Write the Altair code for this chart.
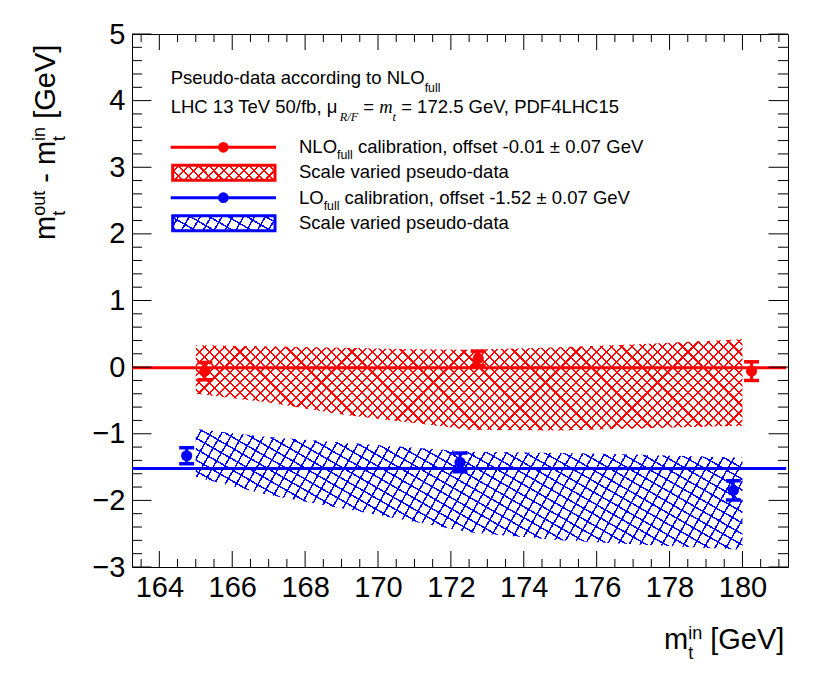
import math
import numpy as np
import pandas as pd
import altair as alt

# ---------------- data ----------------
band_x = [165, 167, 169, 171, 172.5, 175, 177, 180]
nlo_band_hi = [0.33, 0.31, 0.29, 0.27, 0.26, 0.30, 0.34, 0.42]
nlo_band_lo = [-0.40, -0.53, -0.71, -0.84, -0.94, -0.95, -0.92, -0.88]
lo_band_hi = [-0.93, -1.05, -1.13, -1.21, -1.27, -1.29, -1.31, -1.36]
lo_band_lo = [-1.65, -1.92, -2.12, -2.32, -2.48, -2.60, -2.66, -2.74]

nlo_x = [165.25, 172.75, 180.25]
nlo_y = [-0.06, 0.13, -0.06]
nlo_err = [0.13, 0.11, 0.14]
lo_x = [164.75, 172.25, 179.75]
lo_y = [-1.33, -1.43, -1.85]
lo_err = [0.12, 0.14, 0.145]

nlo_offset = -0.01
lo_offset = -1.52
line_x = [163.25, 181.2]

x_major = [164, 166, 168, 170, 172, 174, 176, 178, 180]
y_major = [-3, -2, -1, 0, 1, 2, 3, 4, 5]

# ---------------- geometry / style ----------------
W, H = 656, 533
X_DOM = [163.25, 181.25]
Y_DOM = [-3, 5]
PX = W / (X_DOM[1] - X_DOM[0])
PY = H / (Y_DOM[1] - Y_DOM[0])
RED = "#ff0000"
BLUE = "#0000ff"
FONT = "Liberation Sans"
SERIF = "Liberation Serif"

xs = alt.Scale(domain=X_DOM, nice=False, zero=False)
ys = alt.Scale(domain=Y_DOM, nice=False, zero=False)

x_minor = [v for v in np.arange(163.5, 181.01, 0.5) if abs(v - round(v / 2) * 2) > 1e-6]
y_minor = [round(v, 2) for v in np.arange(-3, 5.001, 0.2) if abs(v - round(v)) > 1e-6]

ARIAL = {' ': 278, '-': 333, '.': 278, ',': 278, '/': 278, '=': 584, '±': 584, '[': 278, ']': 278,
         'C': 722, 'D': 722, 'F': 611, 'G': 778, 'H': 722, 'L': 556, 'N': 722, 'O': 778, 'P': 667,
         'R': 722, 'S': 667, 'T': 611, 'V': 667, 'a': 556, 'b': 556, 'c': 500, 'd': 556, 'e': 556,
         'f': 278, 'g': 556, 'h': 556, 'i': 222, 'l': 222, 'm': 833, 'n': 556, 'o': 556, 'p': 556,
         'r': 333, 's': 500, 't': 278, 'u': 556, 'v': 500, 'μ': 576}
TIMESI = {'R': 611, '/': 278, 'F': 611, 'm': 722, 't': 278}


def tw(s, size, table=ARIAL):
    return sum(table.get(c, 556) for c in s) * size / 1000.0


def hatch(color, clear, angle, w_px, h_px, spacing, lw=1.5):
    th = math.radians(angle)
    nx, ny = math.sin(th), math.cos(th)
    corners = [(0, 0), (1, 0), (0, 1), (1, 1)]
    vals = [nx * w_px * u + ny * h_px * v for u, v in corners]
    i0 = int(np.argmin(vals))
    R = max(vals) - min(vals)
    Q = (nx * w_px) ** 2 + (ny * h_px) ** 2
    k = R / Q
    u1, v1 = corners[i0]
    x2 = u1 + k * nx * w_px
    y2 = v1 + k * ny * h_px
    step, wd = spacing / R, lw / R
    stops = [alt.GradientStop(offset=0, color=clear)]
    a = step / 2
    while a + wd < 1:
        for off, c in ((a, clear), (a, color), (a + wd, color), (a + wd, clear)):
            stops.append(alt.GradientStop(offset=round(off, 5), color=c))
        a += step
    stops.append(alt.GradientStop(offset=1, color=clear))
    return alt.LinearGradient(gradient="linear", stops=stops, x1=u1, y1=v1,
                              x2=round(x2, 5), y2=round(y2, 5))


RED_CLEAR = "rgba(255,0,0,0)"
BLUE_CLEAR = "rgba(0,0,255,0)"
RED_SP, BLUE_SP = 7.2, 9.5

# ---------------- tables ----------------
nlo_band = pd.DataFrame({"x": band_x, "hi": nlo_band_hi, "lo": nlo_band_lo})
lo_band = pd.DataFrame({"x": band_x, "hi": lo_band_hi, "lo": lo_band_lo})
nlo_pts = pd.DataFrame({"x": nlo_x, "y": nlo_y,
                        "lo": np.array(nlo_y) - np.array(nlo_err),
                        "hi": np.array(nlo_y) + np.array(nlo_err)})
lo_pts = pd.DataFrame({"x": lo_x, "y": lo_y,
                       "lo": np.array(lo_y) - np.array(lo_err),
                       "hi": np.array(lo_y) + np.array(lo_err)})
nlo_line = pd.DataFrame({"x": line_x, "y": [nlo_offset] * 2})
lo_line = pd.DataFrame({"x": line_x, "y": [lo_offset] * 2})
one = pd.DataFrame({"a": [0]})

XAX = alt.Axis(values=x_major, format="d", labelFontSize=29, labelFont=FONT, labelColor="black",
               ticks=False, tickSize=0, domain=False, grid=False, labelPadding=6,
               labelFlush=False, labelOverlap=False, title=None)
YAX = alt.Axis(values=y_major, format="d", labelFontSize=29, labelFont=FONT, labelColor="black",
               ticks=False, tickSize=0, domain=False, grid=False, labelPadding=7,
               labelOverlap=False, title=None)


def X(f):
    return alt.X(f, scale=xs, axis=XAX)


def Y(f):
    return alt.Y(f, scale=ys, axis=YAX)


def band_layers(df, color, clear, a1, a2, spacing):
    wpx = (max(df.x) - min(df.x)) * PX
    hpx = (max(df.hi) - min(df.lo)) * PY
    out = []
    for ang in (a1, a2):
        out.append(alt.Chart(df).mark_area(fill=hatch(color, clear, ang, wpx, hpx, spacing),
                                           opacity=1).encode(
            x=X("x:Q"), y=Y("hi:Q"), y2="lo:Q"))
    return out


layers = []
layers += band_layers(nlo_band, RED, RED_CLEAR, 45, -45, RED_SP)
layers += band_layers(lo_band, BLUE, BLUE_CLEAR, 60, -30, BLUE_SP)

for df, col in ((nlo_line, RED), (lo_line, BLUE)):
    layers.append(alt.Chart(df).mark_line(color=col, strokeWidth=3).encode(
        x=X("x:Q"), y=Y("y:Q")))

for df, col in ((nlo_pts, RED), (lo_pts, BLUE)):
    base = alt.Chart(df)
    layers.append(base.mark_rule(color=col, strokeWidth=3).encode(
        x=X("x:Q"), y=Y("lo:Q"), y2="hi:Q"))
    for f in ("lo", "hi"):
        layers.append(base.mark_tick(color=col, orient="horizontal", size=15, thickness=3.5,
                                     opacity=1).encode(x=X("x:Q"), y=Y(f + ":Q")))
    layers.append(base.mark_circle(color=col, size=125, opacity=1).encode(
        x=X("x:Q"), y=Y("y:Q")))


# ---------------- frame ticks (ROOT style, inside) ----------------
def xticks(vals, length):
    d = pd.DataFrame({"v": vals})
    b = alt.Chart(d).mark_rule(color="black", strokeWidth=1)
    return [b.encode(x=X("v:Q"), y=alt.value(H), y2=alt.value(H - length)),
            b.encode(x=X("v:Q"), y=alt.value(0), y2=alt.value(length))]


def yticks(vals, length):
    d = pd.DataFrame({"v": vals})
    b = alt.Chart(d).mark_rule(color="black", strokeWidth=1)
    return [b.encode(y=Y("v:Q"), x=alt.value(0), x2=alt.value(length)),
            b.encode(y=Y("v:Q"), x=alt.value(W), x2=alt.value(W - length))]


layers += xticks(x_major, 16) + xticks(x_minor, 8)
layers += yticks(y_major, 19.5) + yticks(y_minor, 10)


# ---------------- text helpers ----------------
def txt(s, x, y, size, font=FONT, style=None, angle=None, table=ARIAL):
    # leading blanks collapse in SVG: shift the anchor instead
    lead = len(s) - len(s.lstrip(" "))
    shift = tw(" " * lead, size, ARIAL)
    s = s.strip(" ")
    if angle == 270:
        y = y - shift
    else:
        x = x + shift
    props = dict(text=s, fontSize=size, font=font, align="left", baseline="alphabetic", color="black")
    if style:
        props["fontStyle"] = style
    if angle is not None:
        props["angle"] = angle
    return alt.Chart(one).mark_text(**props).encode(x=alt.value(x), y=alt.value(y))


LS = 18.5   # legend font
SS = 12.3   # legend subscript font
SUB = 8

# header lines
x0 = 38.7
layers.append(txt("Pseudo-data according to NLO", x0, 50, LS))
layers.append(txt("full", x0 + tw("Pseudo-data according to NLO", LS), 50 + SUB, SS))
s1 = "LHC 13 TeV 50/fb, μ"
layers.append(txt(s1, x0, 79.3, LS))
xx = x0 + tw(s1, LS)
layers.append(txt("R/F", xx, 79.3 + SUB, SS, font=SERIF, style="italic"))
xx += tw("R/F", SS, TIMESI)
layers.append(txt(" =", xx, 79.3, LS))
xx += tw(" = ", LS)
layers.append(txt("m", xx, 79.3, LS, font=SERIF, style="italic"))
xx += tw("m", LS, TIMESI)
layers.append(txt("t", xx, 79.3 + SUB, SS, font=SERIF, style="italic"))
xx += tw("t", SS, TIMESI)
layers.append(txt(" = 172.5 GeV, PDF4LHC15", xx, 79.3, LS))

# legend entries
LX0, LX1, LXT = 38.7, 144, 167
rows = [(113.3, RED, RED_CLEAR, (45, -45), RED_SP, "NLO", " calibration, offset -0.01 ± 0.07 GeV"),
        (163.7, BLUE, BLUE_CLEAR, (60, -30), BLUE_SP, "LO", " calibration, offset -1.52 ± 0.07 GeV")]
for yl, col, clear, angs, sp, head, tail in rows:
    layers.append(alt.Chart(one).mark_rule(color=col, strokeWidth=3).encode(
        x=alt.value(LX0), x2=alt.value(LX1), y=alt.value(yl)))
    layers.append(alt.Chart(one).mark_circle(color=col, size=115, opacity=1).encode(
        x=alt.value((LX0 + LX1) / 2), y=alt.value(yl)))
    yb = yl + 6
    layers.append(txt(head, LXT, yb, LS))
    xx = LXT + tw(head, LS)
    layers.append(txt("full", xx, yb + SUB - 2, SS))
    xx += tw("full", SS)
    layers.append(txt(tail, xx, yb, LS))
    # hatched box
    by0, by1 = yl + 18, yl + 33
    for ang in angs:
        layers.append(alt.Chart(one).mark_rect(
            fill=hatch(col, clear, ang, LX1 - LX0 - 2, by1 - by0, sp)).encode(
            x=alt.value(LX0 + 2), x2=alt.value(LX1 - 1), y=alt.value(by0), y2=alt.value(by1)))
    layers.append(alt.Chart(one).mark_rect(fill="transparent", stroke=col, strokeWidth=3).encode(
        x=alt.value(LX0 + 2), x2=alt.value(LX1 - 1), y=alt.value(by0), y2=alt.value(by1)))
    layers.append(txt("Scale varied pseudo-data", LXT, yl + 31, LS))

# axis titles
TS, TSS = 29, 18
# x title: m_t^in [GeV]
xb, xbase = 532, 615
layers.append(txt("m", xb, xbase, TS))
xx = xb + tw("m", TS)
layers.append(txt("t", xx, xbase + 10, TSS))
layers.append(txt("in", xx, xbase - 10, TSS))
xx += tw("in", TSS)
layers.append(txt(" [GeV]", xx, xbase, TS))

# y title (rotated): m_t^out - m_t^in [GeV]
yb0, ybase = 206, -77
yy = yb0
layers.append(txt("m", ybase, yy, TS, angle=270))
yy -= tw("m", TS)
layers.append(txt("t", ybase + 10, yy, TSS, angle=270))
layers.append(txt("out", ybase - 10, yy, TSS, angle=270))
yy -= tw("out", TSS)
layers.append(txt(" - m", ybase, yy, TS, angle=270))
yy -= tw(" - m", TS)
layers.append(txt("t", ybase + 10, yy, TSS, angle=270))
layers.append(txt("in", ybase - 10, yy, TSS, angle=270))
yy -= tw("in", TSS)
layers.append(txt(" [GeV]", ybase, yy, TS, angle=270))

chart = alt.layer(*layers).properties(
    width=W, height=H, autosize=alt.AutoSizeParams(type="none"),
    padding={"left": 124, "top": 26, "right": 20, "bottom": 120},
    background="white",
).configure_view(stroke="black", strokeWidth=1)

chart.save("out.html", embed_options={"renderer": "svg", "actions": False})
